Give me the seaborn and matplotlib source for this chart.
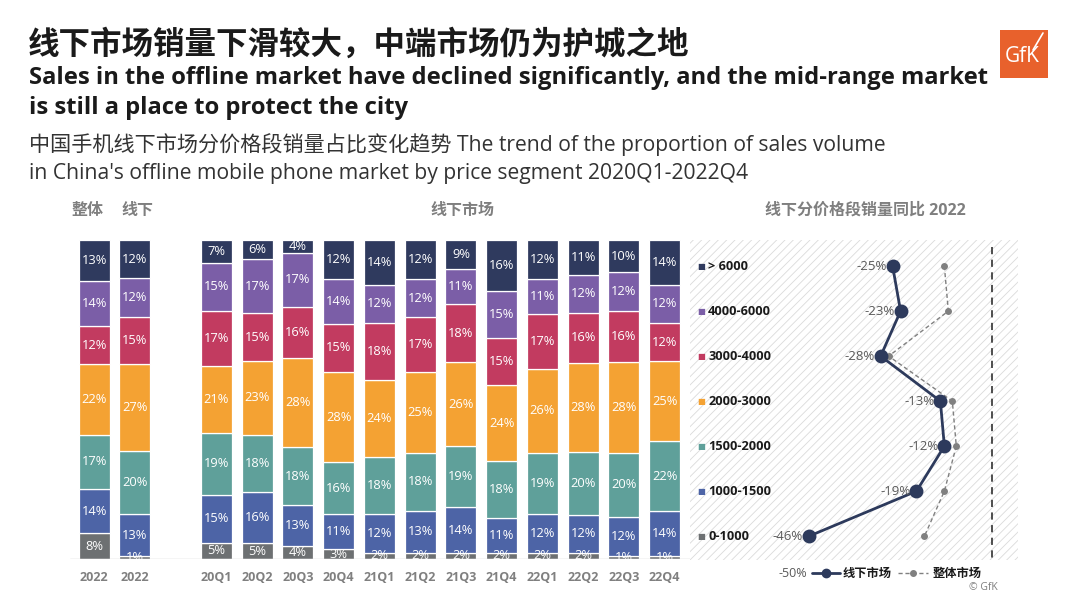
import numpy as np
import pandas as pd
import matplotlib
matplotlib.use("Agg")
import matplotlib.pyplot as plt
import seaborn as sns
from matplotlib.patches import Rectangle
from matplotlib.lines import Line2D
import matplotlib.transforms as mtrans

# ---------------- data ----------------
segments = ['0-1000', '1000-1500', '1500-2000', '2000-3000', '3000-4000', '4000-6000', '> 6000']
seg_colors = ['#6d7072', '#4d64a6', '#5fa09a', '#f4a233', '#c23b60', '#7b5ea7', '#2f3a5e']

bar_labels = ['2022', '2022', '20Q1', '20Q2', '20Q3', '20Q4', '21Q1', '21Q2',
              '21Q3', '21Q4', '22Q1', '22Q2', '22Q3', '22Q4']
bar_pos = [0, 1, 3, 4, 5, 6, 7, 8, 9, 10, 11, 12, 13, 14]

v_0_1000 = [8, 1, 5, 5, 4, 3, 2, 2, 2, 2, 2, 2, 1, 1]
v_1000_1500 = [14, 13, 15, 16, 13, 11, 12, 13, 14, 11, 12, 12, 12, 14]
v_1500_2000 = [17, 20, 19, 18, 18, 16, 18, 18, 19, 18, 19, 20, 20, 22]
v_2000_3000 = [22, 27, 21, 23, 28, 28, 24, 25, 26, 24, 26, 28, 28, 25]
v_3000_4000 = [12, 15, 17, 15, 16, 15, 18, 17, 18, 15, 17, 16, 16, 12]
v_4000_6000 = [14, 12, 15, 17, 17, 14, 12, 12, 11, 15, 11, 12, 12, 12]
v_6000 = [13, 12, 7, 6, 4, 12, 14, 12, 9, 16, 12, 11, 10, 14]
seg_values = [v_0_1000, v_1000_1500, v_1500_2000, v_2000_3000, v_3000_4000, v_4000_6000, v_6000]

yoy_segments = ['> 6000', '4000-6000', '3000-4000', '2000-3000', '1500-2000', '1000-1500', '0-1000']
yoy_offline = [-25, -23, -28, -13, -12, -19, -46]
yoy_overall = [-12, -11, -26, -10, -9, -12, -17]

# ---------------- style ----------------
sns.set_theme(style="white")
plt.rcParams['font.family'] = ['Open Sans', 'Noto Sans CJK SC', 'DejaVu Sans']
plt.rcParams['hatch.linewidth'] = 0.6
CJK = ['Noto Sans CJK SC', 'DejaVu Sans']
MIX = ['Open Sans', 'Noto Sans CJK SC', 'DejaVu Sans']

W, H = 1080, 608
fig = plt.figure(figsize=(W / 100, H / 100), dpi=100)
fig.patch.set_facecolor('white')

def px(x, y):
    return x / W, 1 - y / H

# ---------------- titles ----------------
fig.text(*px(28, 45), '线下市场销量下滑较大，中端市场仍为护城之地', family=CJK,
         fontsize=22.7, fontweight='bold', color='#1a1a1a', va='center', ha='left')
fig.text(*px(29, 78), 'Sales in the offline market have declined significantly, and the mid-range market',
         family=MIX, fontsize=17.1, fontweight='bold', color='#1a1a1a', va='center', ha='left')
fig.text(*px(29, 108), 'is still a place to protect the city',
         family=MIX, fontsize=17.1, fontweight='bold', color='#1a1a1a', va='center', ha='left')
fig.text(*px(29, 145), '中国手机线下市场分价格段销量占比变化趋势 The trend of the proportion of sales volume',
         family=MIX, fontsize=15.2, color='#333333', va='center', ha='left')
fig.text(*px(29, 173), "in China's offline mobile phone market by price segment 2020Q1-2022Q4",
         family=MIX, fontsize=15.2, color='#333333', va='center', ha='left')

# GfK logo
fig.patches.append(Rectangle(px(1000, 78), 48 / W, 48 / H, transform=fig.transFigure,
                             facecolor='#e8612c', edgecolor='none', zorder=5))
fig.text(*px(1022, 57), 'GfK', family=['Open Sans'], fontsize=15, color='white',
         va='center', ha='center', zorder=6)
fig.lines.append(Line2D([1033 / W, 1043 / W], [1 - 50 / H, 1 - 33 / H], transform=fig.transFigure,
                        color='white', lw=1.2, zorder=6))

# section headers
for (x, t) in [(88, '整体'), (137, '线下'), (462, '线下市场'), (865, '线下分价格段销量同比 2022')]:
    fig.text(*px(x, 211), t, family=MIX, fontsize=11.5, fontweight='bold', color='#7f7f7f',
             va='center', ha='center')

# ---------------- stacked bars ----------------
rows = []
for j, (p, lab) in enumerate(zip(bar_pos, bar_labels)):
    total = sum(v[j] for v in seg_values)
    for seg, vals in zip(segments, seg_values):
        rows.append(dict(pos=p, seg=seg, value=vals[j], share=vals[j] / total * 100))
df = pd.DataFrame(rows)

ax = fig.add_axes([70 / W, (H - 559) / H, 620 / W, 319 / H])
sns.histplot(data=df, x='pos', weights='share', hue='seg', hue_order=segments[::-1],
             palette=dict(zip(segments, seg_colors)), multiple='stack', discrete=True,
             shrink=0.76, edgecolor='white', linewidth=0.9, alpha=1, legend=False, ax=ax)
ax.set_xlim(-0.59, 14.62)
ax.set_ylim(0, 100)
ax.set_axis_off()
ax.axhline(0, color='#d0d0d0', lw=1.0, zorder=5)

for p in bar_pos:
    sub = df[df.pos == p].set_index('seg').loc[segments]
    bottom = 0
    for seg in segments:
        s = sub.loc[seg, 'share']
        v = int(sub.loc[seg, 'value'])
        ax.text(p, bottom + s / 2, f'{v}%', ha='center', va='center', color='white',
                fontsize=9.3, family=['Open Sans'], clip_on=True, zorder=4)
        bottom += s

xt = mtrans.blended_transform_factory(ax.transData, ax.transAxes)
for p, lab in zip(bar_pos, bar_labels):
    ax.text(p, -0.057, lab, transform=xt, ha='center', va='center', fontsize=9,
            fontweight='bold', color='#808080', family=['Open Sans'])

# ---------------- YoY panel ----------------
ax2 = fig.add_axes([690 / W, (H - 560) / H, 328 / W, 320 / H])
ax2.set_axis_off()
ax2.add_patch(Rectangle((0, 0), 1, 1, transform=ax2.transAxes, facecolor='white',
                        edgecolor='#dadada', lw=0, hatch='////', zorder=0))

idx = list(range(len(yoy_segments)))
ydf = pd.DataFrame(dict(idx=idx, offline=yoy_offline, overall=yoy_overall, seg=yoy_segments))

sns.lineplot(data=ydf, x='overall', y='idx', sort=False, estimator=None, color='#808080',
             lw=1.0, linestyle=(0, (3, 2)), marker='o', markersize=5, markeredgewidth=0,
             markeredgecolor='#808080', ax=ax2, zorder=3)
sns.lineplot(data=ydf, x='offline', y='idx', sort=False, estimator=None, color='#2d3a5c',
             lw=2.0, marker='o', markersize=10, markeredgewidth=0,
             markeredgecolor='#2d3a5c', ax=ax2, zorder=4)
ax2.set_xlim(-75.9, 6.5)
ax2.set_ylim(6.53, -0.58)
ax2.set_axis_off()

ax2.plot([0, 0], [-0.42, 6.53], color='#404040', lw=1.3, ls=(0, (4, 3)), zorder=2)

for i, v in zip(idx, yoy_offline):
    ax2.text(v - 1.5, i, f'{v}%', ha='right', va='center', fontsize=9.5, color='#595959',
             family=['Open Sans'], zorder=5)

st = mtrans.blended_transform_factory(ax2.transAxes, ax2.transData)
col_map = dict(zip(segments, seg_colors))
for i, seg in zip(idx, yoy_segments):
    ax2.text(0.021, i, '■', transform=st, ha='left', va='center', fontsize=6,
             color=col_map[seg], family=['DejaVu Sans'])
    ax2.text(0.055, i, seg, transform=st, ha='left', va='center', fontsize=9.2,
             fontweight='bold', color='#1a1a1a', family=['Open Sans'])

# bottom axis label and legend
bt = mtrans.blended_transform_factory(ax2.transData, ax2.transAxes)
ax2.text(-50, -0.042, '-50%', transform=bt, ha='center', va='center', fontsize=9,
         color='#595959', family=['Open Sans'])
ax2.add_line(Line2D([(812 - 690) / 328, (840 - 690) / 328], [-0.042, -0.042], transform=ax2.transAxes,
                    color='#2d3a5c', lw=2, clip_on=False))
ax2.add_line(Line2D([(826 - 690) / 328], [-0.042], transform=ax2.transAxes, marker='o',
                    markersize=6, color='#2d3a5c', clip_on=False))
ax2.text((843 - 690) / 328, -0.042, '线下市场', transform=ax2.transAxes, ha='left', va='center',
         fontsize=8.8, fontweight='bold', color='#1a1a1a', family=CJK)
ax2.add_line(Line2D([(898 - 690) / 328, (928 - 690) / 328], [-0.042, -0.042], transform=ax2.transAxes,
                    color='#808080', lw=1, ls=(0, (3, 2)), clip_on=False))
ax2.add_line(Line2D([(913 - 690) / 328], [-0.042], transform=ax2.transAxes, marker='o',
                    markersize=4, color='#808080', clip_on=False))
ax2.text((933 - 690) / 328, -0.042, '整体市场', transform=ax2.transAxes, ha='left', va='center',
         fontsize=8.8, fontweight='bold', color='#1a1a1a', family=CJK)

fig.text(*px(998, 587), '© GfK', ha='right', va='center', fontsize=7.5, color='#7f7f7f',
         family=['Open Sans'])

fig.savefig('out.png', dpi=100, facecolor='white')
